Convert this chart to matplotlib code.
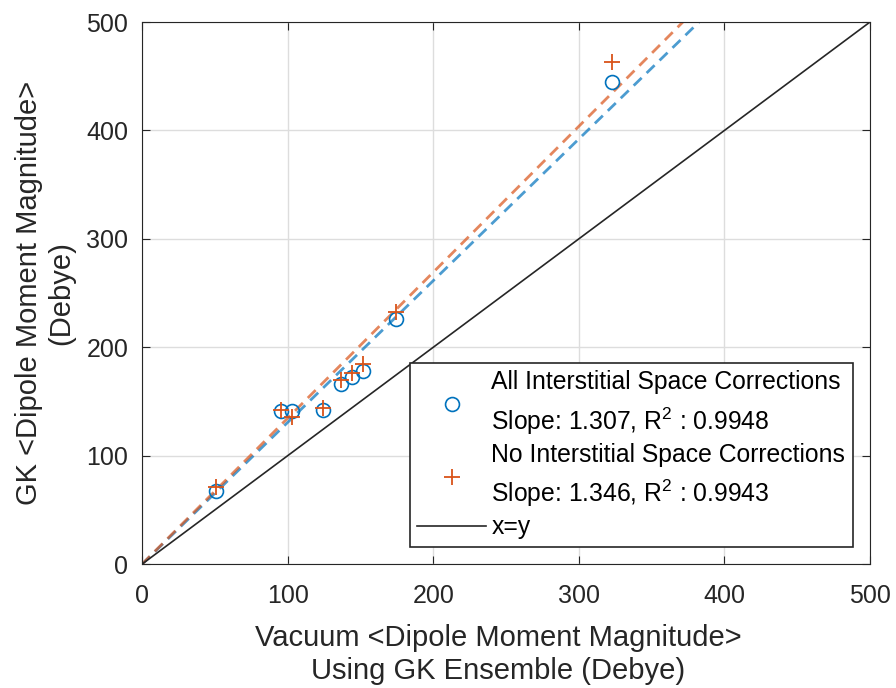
import matplotlib
matplotlib.use("Agg")
import matplotlib.pyplot as plt
import numpy as np

plt.rcParams['font.family'] = ['Liberation Sans', 'DejaVu Sans']
plt.rcParams['mathtext.fontset'] = 'custom'
plt.rcParams['mathtext.rm'] = 'Liberation Sans'
plt.rcParams['mathtext.it'] = 'Liberation Sans'

# vacuum dipole magnitudes (x) and GK values (y)
vac = [50.8, 95.5, 102.8, 124.0, 136.5, 144.0, 151.5, 174.5, 322.6]
gk_all = [67.3, 141.1, 141.0, 142.0, 165.8, 172.5, 178.0, 225.7, 444.4]
gk_none = [71.0, 142.0, 135.6, 143.6, 169.7, 176.5, 185.0, 232.7, 463.4]
slope_all = 1.307
slope_none = 1.346
r2_all = 0.9948
r2_none = 0.9943

blue = (0.0, 0.447, 0.741)
orange = (0.85, 0.325, 0.098)

fig = plt.figure(figsize=(8.96, 6.88), dpi=100)
ax = fig.add_axes([0.1585, 0.180, 0.8125, 0.788])

xx = np.array([0, 500])
ax.plot(xx, slope_all * xx, color=blue, alpha=0.7, lw=2, ls=(0, (4, 2.5)), zorder=2)
ax.plot(xx, slope_none * xx, color=orange, alpha=0.7, lw=2, ls=(0, (4, 2.5)), zorder=2)

h1, = ax.plot(vac, gk_all, 'o', mfc='none', mec=blue, ms=10, mew=1.2, ls='none',
              label='All Interstitial Space Corrections\nSlope: %.3f, R$^2$ : %.4f' % (slope_all, r2_all))
h2, = ax.plot(vac, gk_none, '+', color=orange, ms=12, mew=1.3, ls='none',
              label='No Interstitial Space Corrections\nSlope: %.3f, R$^2$ : %.4f' % (slope_none, r2_none))
h3, = ax.plot(xx, xx, '-', color='#262626', lw=1.2, label='x=y')

ax.set_xlim(0, 500)
ax.set_ylim(0, 500)
ax.set_xticks(np.arange(0, 501, 100))
ax.set_yticks(np.arange(0, 501, 100))
ax.grid(True, color='#dddddd', lw=1.0)
ax.set_axisbelow(True)
ax.tick_params(direction='in', labelsize=18, length=6, pad=10, colors='#262626', top=True, right=True)
ax.tick_params(axis='x', pad=14)
for s in ax.spines.values():
    s.set_color('#262626')

ax.set_xlabel('Vacuum <Dipole Moment Magnitude>\nUsing GK Ensemble (Debye)', fontsize=21,
              color='#262626', labelpad=12)
ax.xaxis.label.set_x(0.489)
ax.set_ylabel('GK <Dipole Moment Magnitude>\n(Debye)', fontsize=21, color='#262626', labelpad=8)

leg = ax.legend(handles=[h1, h2, h3], loc='lower right', fontsize=17.8, handlelength=2.8,
                fancybox=False, edgecolor='#262626', framealpha=1, labelspacing=0.25,
                borderaxespad=0.7, handletextpad=0.2, borderpad=0.3)
leg.get_frame().set_linewidth(1.2)
for t in leg.get_texts():
    t.set_linespacing(1.45)

fig.savefig('out.png', dpi=100)
